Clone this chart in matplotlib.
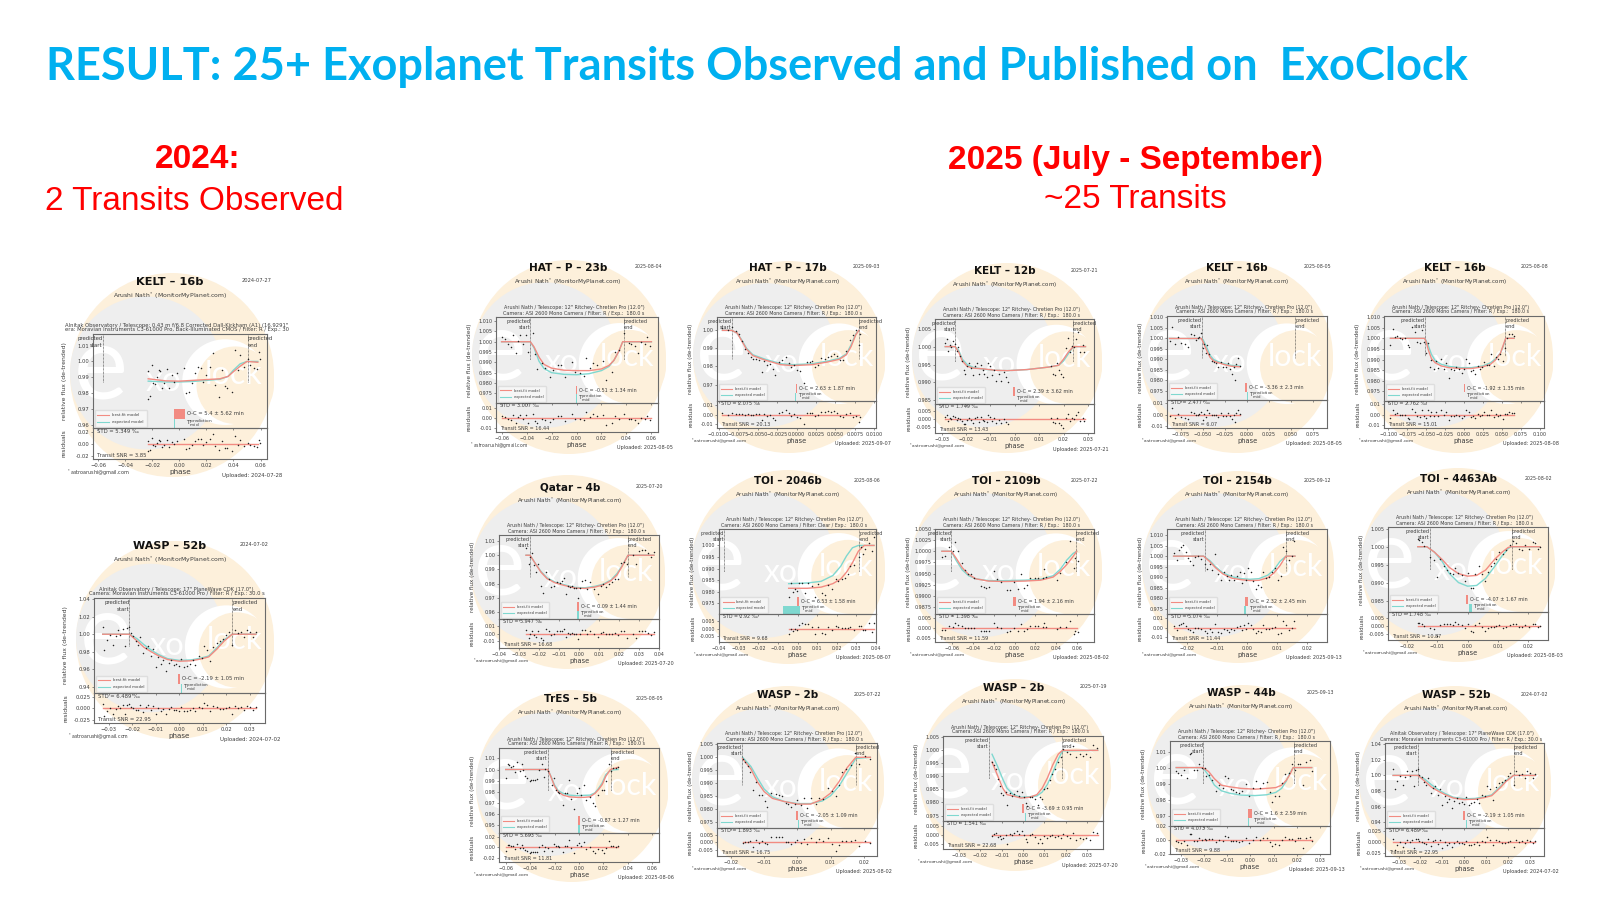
import matplotlib
matplotlib.use("Agg")
import matplotlib.pyplot as plt
from matplotlib.patches import Circle

W, H = 1600, 900

# KELT-16b 2024-07-27
k16a_phase = [-.0235,-.023,-.0218,-.02,-.0198,-.018,-.0168,-.0151,-.0144,-.0131,-.0114,-.0089,-.0074,-.0057,-.004,-.002,.0035,.0047,.0072,.0097,.0116,.0141,.0161,.0178,.0198,.0228,.0248,.0267,.029,.0314,.0339,.0356,.0389,.0408,.0431,.045,.0475,.0505,.0525,.055,.0574,.0592,.0599]
k16a_flux = [.9937,.9765,.978,.998,.9865,.986,.9903,.9945,.9941,.983,.9865,.9949,.983,.9913,.9871,.9924,.9956,.9797,.9807,.9861,.9924,.9966,.9956,.9871,.9913,.9962,1.0051,.985,.9776,.9945,.9843,.9829,.9807,1.0072,.9945,1.004,.9966,1.0017,.9977,.9956,.995,1.0061,1.0013]
k16a_res = [.0047,-.0125,-.011,.009,-.0025,-.003,.0015,.006,.0055,-.005,-.0015,.007,-.005,.0035,-.0006,.0047,.008,-.008,-.0072,-.0019,.0044,.0084,.0073,-.0013,.0028,.0075,.0163,-.0038,-.0112,.0052,-.0062,-.0076,-.012,.0125,-.002,.007,-.003,.0017,-.002,-.004,-.005,.0065,.002]
k16a_mx = [-.023,-.01,0,.01,.02,.03,.036,.04,.045,.05,.058]
k16a_best = [.989,.9877,.9875,.988,.9885,.989,.9905,.9935,.997,1.0,.9995]
k16a_exp = [.9875,.987,.987,.9873,.988,.9887,.9905,.9945,.9985,1.0,1.0]

# HAT-P-23b
h23_phase = [-.06,-.0573,-.0547,-.0528,-.0507,-.0488,-.0472,-.0453,-.0432,-.0405,-.0387,-.0352,-.0333,-.0315,-.028,-.0253,-.0213,-.0187,-.0147,-.0128,-.0093,-.004,-.0013,.0027,.0059,.008,.0112,.0133,.0165,.0213,.0235,.0288,.0307,.0341,.0379,.0421,.044,.0467,.0493,.052,.0547,.0568,.0587]
h23_flux = [1.0024,1.0013,.9987,.9976,1.0035,.9947,1.0006,1.0032,.9987,1.0035,.9949,1.0043,.9939,.9868,.9896,.9872,.9827,.9864,.9888,.9888,.9831,.9904,.9851,.9847,.9836,.9923,.9872,.9896,.9888,.9907,.9814,.9851,.9952,.996,1.004,.9992,.9987,.9981,.9947,.9997,.9987,1.0024,.9981]
h23_res = [.0024,.0013,-.0013,-.0024,.0035,-.0053,.0006,.0032,-.0013,.0035,-.0051,.0043,-.0031,-.0052,-.0012,-.0022,-.0045,-.0006,.0022,.0024,-.0031,.0043,-.001,-.0013,-.0024,.0063,.0012,.0036,.0024,.0033,-.007,-.0048,.0023,-.001,.004,-.0008,-.0013,-.0019,-.0053,-.0003,-.0013,.0024,-.0019]
h23_mx = [-.06,-.037,-.034,-.03,-.026,-.02,-.01,0,.01,.02,.026,.03,.034,.037,.06]
h23_best = [1.0,1.0,.9975,.9925,.989,.9872,.9862,.986,.986,.9868,.9885,.991,.9955,1.0,1.0]
h23_exp = [1.0,1.0,.997,.9905,.987,.985,.9842,.984,.9845,.986,.988,.991,.9955,1.0,1.0]

# HAT-P-17b
h17_phase = [-.0095,-.0088,-.0083,-.0078,-.0074,-.007,-.0066,-.0062,-.0058,-.0056,-.0052,-.0048,-.0044,-.0042,-.0038,-.0034,-.003,-.0027,-.0022,-.0018,-.0014,-.001,-.0007,-.0003,0,.0005,.0009,.0013,.0017,.002,.0024,.0028,.0032,.0036,.004,.0044,.0048,.0052,.0056,.006,.0064,.0068,.0072,.0076,.008,.0082]
h17_flux = [1.0015,1.0,1.0018,.9995,.998,.994,.9895,.9875,.985,.984,.984,.9835,.977,.983,.981,.9815,.9785,.9755,.9825,.9835,.9855,.982,.9795,.981,.978,.9775,.971,.9825,.9825,.983,.9795,.981,.9845,.984,.9855,.986,.987,.986,.9835,.9835,.9885,.9945,.9975,1.0,.992,.998]
h17_res = [.0015,0,.0018,.0002,.0008,.0006,-.0002,.0008,0,-.0005,.0002,.0004,-.0055,.0006,-.0012,-.0003,-.0031,-.0058,.0016,.0028,.0048,.0013,-.0011,.0005,-.0025,-.003,-.0095,.0019,.0019,.0022,-.0015,.0,.0032,.0023,.0033,.0032,.0036,.002,-.0012,-.002,.001,.0015,-.002,-.001,-.0075,-.002]
h17_mx = [-.0095,-.0083,-.0076,-.007,-.0064,-.0056,-.004,-.002,-.0005,.002,.004,.0055,.0064,.007,.0076,.008]
h17_best = [1.0,1.0,.9985,.994,.9895,.986,.9835,.981,.9805,.981,.9825,.984,.9865,.991,.9975,1.0]
h17_exp = [1.0,1.0,.9985,.9945,.99,.9865,.984,.9815,.981,.9815,.983,.9845,.987,.992,.998,1.0]

# KELT-12b
k12_phase = [-.0285,-.0278,-.0272,-.0265,-.026,-.0253,-.0245,-.0238,-.0232,-.0225,-.0218,-.021,-.0203,-.0195,-.0188,-.018,-.0172,-.0165,-.0155,-.0148,-.014,-.0132,-.0125,-.0115,-.0108,-.01,-.0092,-.0085,-.0075,-.0065,-.0055,-.0045,-.0035,-.0028,.0148,.0155,.0165,.0172,.018,.019,.0198,.021,.0218,.0225,.0235,.0245,.0252,.026,.0268,.0278,.0285]
k12_flux = [1.001,1.002,.9988,1.0005,.9998,1.0015,1.0008,.9988,1.0,.9975,.996,.9935,.9925,.9945,.9955,.994,.992,.9945,.9955,.9925,.995,.9935,.9925,.9915,.9955,.9945,.992,.9935,.9905,.9925,.9905,.993,.9915,.99,.9945,.9925,.992,.9955,.9935,.9925,.9915,.9995,1.0025,.9985,1.0002,.9998,1.002,1.004,.9985,1.0005,.9985]
k12_res = [.001,.002,-.0012,.0005,-.0002,.0015,.0008,-.001,.0004,-.0002,-.0012,-.003,-.003,-.001,.0002,-.0008,-.0025,.0002,.0012,-.0018,.0008,-.0005,-.0015,-.0022,.002,.001,-.0013,.0002,-.0028,-.0008,-.0028,-.0003,-.0018,-.0033,.0002,-.002,-.0028,.0003,-.0025,-.004,-.0055,.0005,.003,-.0015,.0002,-.0002,.002,.004,-.0015,.0005,-.0015]
k12_mx = [-.0285,-.0245,-.023,-.0215,-.0195,-.017,-.013,-.008,-.003,.005,.014,.018,.02,.022,.024,.029]
k12_best = [1.0,1.0,.9985,.996,.9945,.994,.9938,.9934,.9933,.9936,.9943,.9948,.9965,.9985,1.0,1.0]
k12_exp = [1.0,1.0,.999,.9965,.995,.9942,.9937,.9934,.9933,.9936,.9943,.9948,.996,.998,1.0,1.0]

# KELT-16b 2025-08-05
k16b_phase = [-.088,-.085,-.082,-.078,-.075,-.071,-.067,-.064,-.06,-.058,-.056,-.054,-.052,-.05,-.049,-.047,-.045,-.043,-.04,-.038,-.035,-.033,-.03,-.027,-.024,-.022,-.019,-.017,-.015,-.014,-.012,-.01,-.008]
k16b_flux = [.999,1.0055,.9975,1.0005,.998,.9975,.996,1.002,1.0015,.9995,1.0,1.0005,1.0025,.9955,.9975,.993,.997,.9925,.9895,.989,.9885,.9865,.989,.9865,.9865,.9885,.9855,.983,.9865,.98,.988,.9905,.987]
k16b_res = [-.001,.0055,-.0025,.0005,-.002,-.0025,-.004,.002,.0015,-.0005,0,.0005,.0025,-.0045,.0002,-.002,.004,.001,-.0002,-.0005,-.0003,-.0018,.0012,-.001,-.0008,.0013,-.0015,-.004,-.0005,-.0067,.0012,.004,.0005]
k16b_mx = [-.088,-.052,-.05,-.046,-.042,-.038,-.033,-.026,-.018,-.008]
k16b_best = [1.0,1.0,.9985,.9945,.991,.9893,.9885,.9876,.9868,.9865]
k16b_exp = [1.0,1.0,.9995,.996,.992,.99,.989,.988,.9872,.9868]

# KELT-16b 2025-08-08
k16c_phase = [-.097,-.094,-.091,-.088,-.085,-.082,-.078,-.074,-.072,-.069,-.065,-.062,-.058,-.055,-.053,-.05,-.047,-.045,-.043,-.04,-.037,-.034,-.03,-.027,-.024,-.02,-.017,-.013,-.01,-.006,-.003,0,.003,.006,.009,.012,.015,.018,.021,.024,.027,.03,.033,.036,.039,.042,.045,.048,.051,.054,.057,.06,.063,.066]
k16c_flux = [.9968,1.0045,1.0005,1.001,1.0,.9995,1.0,.997,.9958,1.0052,1.0028,.9985,.998,1.004,.9985,.993,.998,.9865,.99,.9855,.9895,.986,.9905,.9855,.9885,.9815,.9855,.985,.9865,.9855,.9835,.9855,.9905,.9885,.9845,.985,.983,.987,.9855,.9865,.989,.9875,.9875,.9925,.987,.991,.9905,.9925,.9895,.9955,1.0,1.002,1.0018,1.001]
k16c_res = [-.0032,.0045,.0005,.001,0,-.0005,0,-.003,-.0042,.0052,.0028,-.0015,-.002,.004,-.0015,-.0035,.0045,-.001,.002,-.0015,.0025,-.001,.004,-.0005,.0022,-.0048,-.001,-.0015,0,-.001,-.003,-.001,.004,.002,-.002,-.0015,-.0035,.0005,-.0012,-.0003,.002,0,-.0005,.0038,-.0025,.0008,-.001,0,-.004,.0002,.0005,.002,.0018,.001]
k16c_mx = [-.097,-.052,-.05,-.047,-.043,-.038,-.03,-.02,-.005,.01,.025,.035,.042,.048,.052,.055,.066]
k16c_best = [1.0,1.0,.9985,.9945,.9905,.9885,.987,.9862,.9858,.9858,.9866,.9878,.99,.993,.997,1.0,1.0]
k16c_exp = [1.0,1.0,.999,.9965,.9925,.9895,.9878,.9868,.9862,.9862,.987,.9885,.9905,.993,.9965,1.0,1.0]

# Qatar-4b
q4_phase = [-.0265,-.0252,-.0245,-.0235,-.0225,-.0215,-.0205,-.0192,-.0178,-.0165,-.015,-.014,-.0125,-.011,-.0095,-.0085,-.0075,-.0065,-.0055,-.0045,-.0035,-.0025,-.0015,-.0005,.0005,.0015,.003,.004,.0055,.0075,.0095,.0108,.012,.0135,.015,.0165,.018,.0195,.021,.0225,.024,.027,.0285,.03,.0315,.033,.0345,.036,.0375]
q4_flux = [1.005,.994,.9985,1.0015,.993,.988,.9935,.978,.973,.988,.9835,.9775,.9785,.981,.9805,.9815,.984,.9725,.978,.9775,.978,.977,.9765,.97,.977,.982,.9825,.976,.981,.976,.9725,.9785,.98,.9775,.9795,.981,.9835,.983,.9945,.9955,.9935,1.0,.9935,1.003,1.0035,1.004,1.0015,.9985,1.002]
q4_res = [.005,-.006,-.001,.0035,-.002,-.005,.004,-.006,-.008,.006,.003,-.002,0,.003,.003,.004,.006,-.005,.001,0,.001,0,0,-.007,0,.005,.0055,-.001,.004,-.001,-.005,.0005,.002,-.001,0,0,.001,-.002,.004,.003,-.0065,0,-.0065,.003,.0035,.004,.0015,-.0015,.002]
q4_mx = [-.0265,-.0245,-.022,-.019,-.016,-.012,-.007,-.002,.003,.008,.012,.016,.019,.0215,.0245,.0375]
q4_best = [1.0,1.0,.9945,.988,.9835,.9805,.9785,.9768,.9765,.9775,.979,.982,.986,.992,1.0,1.0]
q4_exp = [1.0,1.0,.9945,.9885,.984,.981,.979,.9772,.977,.978,.9795,.9825,.987,.9925,1.0,1.0]

# TOI-2046b
t2046_phase = [-.0045,-.0035,-.0025,-.0015,-.0003,.001,.0025,.004,.0055,.0075,.009,.0105,.0125,.014,.0155,.0175,.0195,.0205,.0225,.024,.0255,.027,.029,.0315,.0325,.0335,.0345,.0365,.038,.039]
t2046_flux = [.9778,.9838,.98,.981,.9805,.9838,.9838,.9795,.9838,.9825,.9778,.9832,.9795,.9788,.983,.9812,.9855,.9848,.9855,.986,.9875,.9912,.9915,.9948,.9995,.9965,.9985,1.001,.9975,1.0038]
t2046_res = [-.0037,-.0005,-.0015,-.0005,-.001,.0025,.0035,.0032,.0028,.0012,-.0035,.0012,-.0028,-.0035,.0012,-.0012,.0015,.0008,.0005,.0003,.0002,.0012,-.0008,.0018,.002,-.0012,-.0012,.0035,-.0025,.0038]
t2046_mx = [-.0045,.005,.012,.018,.022,.025,.028,.031,.034,.039]
t2046_best = [.9815,.9815,.982,.9835,.9855,.9885,.9925,.9975,1.0,1.0]
t2046_exp = [.9835,.9838,.9845,.987,.991,.9955,.999,1.0,1.0,1.0]

# TOI-2109b
t2109_phase = [-.0695,-.0665,-.0625,-.059,-.0565,-.0545,-.05,-.0475,-.0445,-.042,-.0385,-.0325,-.0295,-.027,-.0245,-.02,-.0165,-.0125,-.0075,-.0045,-.0005,.0035,.0065,.0095,.012,.015,.0195,.0225,.0275,.0285,.03,.041,.044,.0495,.0535,.0565,.058,.0605]
t2109_flux = [.9988,.9989,1.0009,1.0,1.002,1.0001,.9973,.9958,.995,.9948,.9939,.9921,.992,.9917,.9919,.9956,.9938,.9932,.9912,.9914,.9932,.9916,.9949,.9917,.9925,.994,.9941,.994,.9941,.9959,.9942,.9935,.9952,.9976,1.0023,.9963,.9985,.9978]
t2109_res = [-.0012,-.0011,.0009,.0006,.0022,.0015,.001,0,-.0003,.0001,-.0002,-.0015,-.0016,-.0018,-.0016,.0023,.0005,0,-.002,-.0018,0,-.0016,.0017,-.0015,-.0007,.0008,.0008,.0007,.0005,.0023,.0005,-.0007,.0003,.0002,.0035,-.0032,-.0014,-.0022]
t2109_mx = [-.0695,-.0605,-.056,-.05,-.044,-.037,-.025,-.01,.01,.025,.037,.044,.05,.056,.0595]
t2109_best = [1.0,1.0,.9985,.9963,.9948,.9938,.9933,.9932,.9933,.9935,.9942,.9955,.997,.9988,1.0]
t2109_exp = [1.0,1.0,.998,.9958,.9945,.9938,.9934,.9934,.9935,.9937,.9945,.996,.998,.9995,1.0]

# TOI-2154b
t2154_phase = [-.0245,-.0235,-.0228,-.022,-.0212,-.0205,-.0198,-.019,-.018,-.0172,-.0165,-.0152,-.014,-.0132,-.0125,-.0118,-.0108,-.0098,-.0088,-.0078,-.0068,-.006,-.0052,-.0045,-.0035,-.0025,-.0018,-.001,-.0005,.0002,.0012,.002,.003,.0038,.0048,.0055,.0065,.0075,.0085,.0095,.0105,.0112,.012,.013,.014,.015,.0158]
t2154_flux = [1.0015,.998,1.003,1.0042,1.0052,1.002,.999,.9975,.996,.9995,1.0,.9985,.9965,.994,.9965,.9935,1.001,.9915,.9885,.9925,.9905,.9885,.991,.9885,.9905,.9925,.987,.992,.9885,.9945,.9925,.988,.9845,.9865,.9855,.9925,.9895,.99,.9925,.9945,.9885,.9905,1.0045,1.0025,.998,1.0,1.007]
t2154_res = [.0015,-.002,.003,.0042,.0052,.002,-.001,-.0025,-.004,-.0005,0,-.0015,-.003,-.005,-.0012,-.004,.004,-.004,-.006,-.001,-.0025,-.004,-.001,-.0025,.0005,.002,-.002,.003,-.001,.0055,.003,-.0015,-.005,-.003,-.004,.003,-.001,-.0015,0,.0005,-.007,-.005,.0075,.003,-.002,0,.007]
t2154_mx = [-.0245,-.0145,-.0125,-.0105,-.008,-.005,-.002,.001,.004,.007,.009,.011,.013,.016]
t2154_best = [1.0,1.0,.9975,.9945,.9915,.9895,.9888,.9884,.9885,.9898,.992,.9955,1.0,1.0]
t2154_exp = [1.0,1.0,.998,.995,.992,.9902,.9893,.989,.9893,.991,.9935,.9975,1.0,1.0]

# TOI-4463Ab
t4463_phase = [-.0165,-.016,-.0152,-.0145,-.0125,-.0112,-.01,-.0092,-.0078,-.0068,-.0058,-.0048,-.004,-.0032,-.0018,-.0008,.0003,.0012,.0018,.0025,.0038,.0048,.0058,.0068,.0078,.0088,.0095,.0105,.0118,.0128,.014,.0152,.0162,.017,.018,.0192,.0205,.0218,.0225,.0235,.024]
t4463_flux = [1.0022,1.0018,1.0012,1.0001,.9972,.9962,.9915,.9965,.9945,.9935,.9928,.9925,.9942,.9928,.9922,.9905,.9928,.9885,.9885,.9925,.9945,.9925,.9905,.993,.9945,.9955,.9965,.9985,.998,.999,1.0005,1.0015,1.001,.9995,.9992,1.0005,.9995,1.0012,1.001,.9995,.9998]
t4463_res = [.0022,.0016,.001,0,-.0015,-.002,-.0065,.0005,.0012,.0012,.001,.0008,.0025,.001,.0005,-.0012,.001,-.0032,-.0035,.0005,.002,-.0008,-.0032,-.0012,-.0004,-.0005,0,.0005,-.001,-.0005,.0005,.0015,.001,-.0005,-.0008,.0005,-.0005,.0012,.001,-.0005,-.0002]
t4463_mx = [-.0165,-.0135,-.011,-.0085,-.006,-.003,0,.003,.006,.009,.0115,.0135,.0145,.024]
t4463_best = [1.0,1.0,.9985,.9965,.9942,.9925,.9918,.992,.9935,.9965,.9985,.9998,1.0,1.0]
t4463_exp = [1.0,1.0,.9985,.996,.9925,.99,.989,.9892,.9912,.9945,.9975,.9995,1.0,1.0]

# TrES-5b
t5_phase = [-.06,-.0585,-.057,-.0555,-.054,-.0525,-.051,-.0485,-.047,-.0455,-.044,-.0425,-.0405,-.039,-.0375,-.036,-.034,-.0325,-.0305,-.029,-.0275,-.025,-.0225,-.0205,-.019,-.0175,-.016,-.0135,-.0115,-.01,-.0085,-.0065,-.004,-.002,0,.0015,.004,.006,.009,.0115,.013,.0155,.0185,.0205,.0225,.0245,.0265,.028,.03,.032]
t5_flux = [.992,1.0045,1.004,1.002,1.003,.9975,1.0065,.999,1.0045,.9995,.9945,.9925,.9895,.9905,.9905,.991,.9915,1.0,1.005,.9935,1.0005,.999,.986,.9925,.982,.98,.9785,.9685,.9785,.979,.9905,.9735,.9645,.979,.9835,.9775,.9865,.9725,.9755,.9695,.967,.977,.982,.982,.9895,1.005,.9985,1.001,1.0015,1.002]
t5_res = [-.008,.0045,.004,.002,.003,-.0025,.0065,-.001,.0045,-.0005,-.0055,-.0075,-.0105,-.0095,-.0095,-.009,-.0085,0,.005,-.0065,.0005,-.001,-.0065,.0055,.002,.002,.001,-.009,.002,.003,.015,-.0015,-.011,.0035,.008,.002,.011,-.003,0,-.0075,-.011,-.004,-.006,-.011,-.002,.012,.002,.003,.0015,.002]
t5_mx = [-.06,-.0255,-.023,-.02,-.017,-.013,-.008,-.002,.004,.009,.013,.016,.019,.022,.0258,.032]
t5_best = [1.0,1.0,.9935,.985,.98,.977,.9755,.975,.975,.9755,.9785,.982,.9865,.994,1.0,1.002]
t5_exp = [1.0,1.0,.994,.986,.981,.9785,.977,.9765,.9768,.977,.979,.983,.988,.9955,.9995,1.0]

# WASP-2b 2025-07-22
w2a_phase = [-.0165,-.0158,-.015,-.0142,-.0133,-.0125,-.0115,-.0105,-.0098,-.009,-.0078,-.0065,-.0055,-.0045,-.0035,-.0028,-.0018,-.0008,-.0002,.0012,.002,.003,.0042,.0055,.0065,.0078,.0092,.0103,.0115,.0125,.0135,.0148,.0162,.0175,.0185,.0205,.0218]
w2a_flux = [.9995,.998,.9965,.9945,.9875,.9905,.9855,.9855,.983,.981,.9862,.9858,.9855,.9852,.9825,.982,.981,.982,.9835,.9815,.9842,.9805,.9845,.982,.9842,.984,.988,.987,.985,.9895,.9945,.9955,.997,1.0015,.9975,1.0005,.9995]
w2a_res = [-.0005,0,.0002,.0005,-.003,.0015,-.0005,.001,-.0005,-.0015,.0032,.0035,.0032,.0032,.0003,-.0002,-.001,0,.0015,-.0005,.0022,-.0015,.0025,.0001,.002,.001,.0025,-.001,-.0055,-.002,.0005,.0005,.001,.0015,-.0025,.0008,-.0005]
w2a_mx = [-.0165,-.014,-.012,-.01,-.0075,-.004,0,.004,.0075,.01,.0125,.015,.0176,.022]
w2a_best = [.9995,.9955,.9905,.9868,.9842,.983,.982,.982,.9838,.9862,.9905,.996,1.0,1.0]
w2a_exp = [1.0,.9965,.992,.9878,.9848,.983,.9822,.9822,.9832,.9852,.9888,.994,.9995,1.0]

# WASP-2b 2025-07-19
w2b_phase = [-.0145,-.0135,-.0125,-.0118,-.011,-.0102,-.0092,-.0082,-.0075,-.006,-.0052,-.004,-.0028,-.0018,-.0005,.0005,.0012,.002,.0032,.0042,.0055,.0068,.0078,.009,.01,.0112,.0125,.0138,.0152,.0165,.0178,.0188,.0205,.0218,.0235,.025,.0265,.028,.0295,.0312,.033,.0345]
w2b_flux = [.9955,.9945,.993,.989,.9865,.9835,.983,.9842,.979,.9835,.9825,.9832,.9845,.9825,.9842,.982,.9797,.9785,.982,.9822,.9815,.979,.9822,.9812,.985,.9855,.9885,.991,.993,.9955,.9975,1.0005,.9995,.9985,1.0015,.9975,.9985,.998,.9985,.9975,1.002,1.001]
w2b_res = [-.0002,.0005,.001,-.0012,-.0002,-.002,-.0015,.0003,-.005,.0005,0,.001,.0025,.0005,.0025,.0003,-.002,-.0035,0,.0005,-.0008,-.004,-.002,-.004,-.0003,-.0015,-.0005,0,-.001,-.0005,-.0015,.0005,-.0005,-.0015,.0015,-.0025,-.0015,-.002,-.0015,-.0025,.002,.001]
w2b_mx = [-.0145,-.012,-.0095,-.0075,-.0045,-.001,.003,.0065,.009,.0115,.014,.0165,.0185,.035]
w2b_best = [.9955,.9905,.9855,.983,.9825,.9817,.982,.983,.9855,.9895,.9945,.9985,1.0,1.0]
w2b_exp = [.9985,.994,.989,.9855,.983,.982,.9822,.9825,.984,.987,.9915,.9965,.9998,1.0]

# WASP-44b
w44_phase = [-.032,-.0312,-.03,-.0288,-.0275,-.0262,-.0255,-.0245,-.0232,-.022,-.021,-.0198,-.019,-.0178,-.0165,-.0148,-.0135,-.012,-.011,-.0095,-.0085,-.0075,-.006,-.0048,-.0035,-.002,-.0005,.001,.0025,.004,.0055,.0072,.0085,.0095,.0108,.0122,.0135,.015,.0165,.018,.0192,.0205,.0215,.0228,.0242,.0258,.0265]
w44_flux = [.998,.9965,.9955,.9985,.9935,1.0085,1.009,.9985,.9985,1.0025,1.0,.9995,.9945,.9955,.9925,.9855,.989,.9875,.9945,.9935,.9865,.986,.9845,.984,.9855,.9895,.9825,.9875,.9915,.9875,.9905,.991,.9845,.9785,.9825,.982,.9905,.996,.9965,1.002,.9985,1.0025,1.0025,.989,1.0035,1.005,.998]
w44_res = [-.002,-.0035,-.0045,-.0015,-.0065,.0085,.009,-.0015,-.0015,.0025,0,.002,0,.002,.0015,-.003,0,-.001,.006,.005,-.001,-.001,-.002,-.0025,-.001,.0025,-.0045,.0005,.0045,.0005,.0035,.0035,-.0035,-.009,-.006,-.0075,0,.004,.001,.002,-.0015,.0025,.0025,-.011,.0035,.005,-.002]
w44_mx = [-.032,-.0205,-.018,-.0155,-.0125,-.009,-.004,.002,.007,.011,.0135,.0155,.017,.0185,.0265]
w44_best = [1.0,1.0,.9975,.993,.989,.988,.987,.9865,.987,.9875,.989,.992,.9955,1.0,1.0]
w44_exp = [1.0,1.0,.995,.989,.9855,.984,.9828,.9825,.983,.9845,.987,.9915,.9965,1.0,1.0]

# WASP-52b
w52_phase = [-.0325,-.0318,-.0305,-.0295,-.0282,-.027,-.026,-.025,-.024,-.023,-.0222,-.0212,-.0205,-.0195,-.0185,-.0175,-.0165,-.0152,-.0142,-.0132,-.0122,-.0112,-.01,-.009,-.0078,-.0068,-.0058,-.0045,-.0035,-.0022,-.0012,-.0002,.0008,.002,.0032,.0045,.0058,.0068,.0082,.0095,.0105,.0118,.013,.0145,.016,.0172,.0185,.0198,.021,.0225,.0238,.025,.0262,.0275,.0288,.03,.0312,.0325]
w52_flux = [1.008,.982,.993,.999,.988,.998,1.005,.9995,1.006,.987,1.007,1.008,1.001,.998,.992,.988,.997,.978,.984,.986,.975,.983,.962,.974,.966,.97,.958,.967,.971,.965,.966,.963,.972,.962,.964,.966,.97,.965,.975,.973,.986,.982,.969,.985,.99,.992,.994,.999,1.003,.988,1.005,1.001,1.002,.997,1.005,1.003,.997,1.002]
w52_res = [.008,-.017,-.006,0,-.012,-.002,.005,0,.006,-.013,.007,.008,.002,.001,-.003,-.004,.007,-.008,.002,.006,-.004,.004,-.013,0,-.006,-.001,-.012,-.002,.002,-.003,-.003,-.005,.003,-.007,-.006,-.004,0,-.006,.003,.001,.012,.006,-.007,.004,.003,-.001,-.002,0,.003,-.012,.005,.001,.002,-.003,.005,.003,-.003,.002]
w52_mx = [-.0325,-.0212,-.018,-.015,-.012,-.009,-.005,0,.005,.009,.0125,.016,.019,.0225,.0325]
w52_best = [1.0,1.0,.9925,.985,.98,.9755,.971,.969,.9695,.9715,.974,.983,.992,1.0,1.0]
w52_exp = [1.0,1.0,.995,.988,.982,.977,.972,.97,.9705,.9725,.975,.9845,.9935,1.0,1.0]

ARUSHI = 'Arushi Nath / Telescope: 12" Ritchey- Chretien Pro (12.0")'
ASI = "Camera: ASI 2600 Mono Camera / Filter: R / Exp.:  180.0 s"
ALN17 = 'Alnitak Observatory / Telescope: 17" PlaneWave CDK (17.0")'
MOR = "Camera: Moravian Instruments C3-61000 Pro / Filter: R / Exp.: 30.0 s"

# name, date, upload, obs lines, O-C, STD, SNR and data for each panel
panels = [
    dict(name="KELT – 16b", date="2024-07-27", up="2024-07-28", o1='Alnitak Observatory / Telescope: 0.43 m f/6.8 Corrected Dall-Kirkham (A1) (16.9291"',
         o2="era: Moravian Instruments C3-61000 Pro, Back-Illuminated CMOS / Filter: R / Exp.: 30", oc="O-C = 5.4 ± 5.62 min", std="STD = 5.349 ‰", snr="Transit SNR = 3.85",
         d=(k16a_phase, k16a_flux, k16a_res, k16a_mx, k16a_best, k16a_exp), xl=(-.0638, .0648), yl=(.9578, 1.0174), rl=(-.0256, .0267),
         xt=[-.06,-.04,-.02,0,.02,.04,.06], xf="%.2f", yt=[.96,.97,.98,.99,1.0,1.01], yf="%.2f", rt=[-.02,0,.02], rf="%.2f",
         s=-.0565, e=.0505, lo=.987, red=(-.0037,.0042), cy=(-.0038,-.0034)),
    dict(name="HAT – P – 23b", date="2025-08-04", up="2025-08-05", o1=ARUSHI, o2=ASI, oc="O-C = -0.51 ± 1.34 min", std="STD = 3.007 ‰", snr="Transit SNR = 16.44",
         d=(h23_phase, h23_flux, h23_res, h23_mx, h23_best, h23_exp), xl=(-.0645, .0653), yl=(.9703, 1.012), rl=(-.0141, .0152),
         xt=[-.06,-.04,-.02,0,.02,.04,.06], xf="%.2f", yt=[.975,.98,.985,.99,.995,1.0,1.005,1.01], yf="%.3f", rt=[-.01,0,.01], rf="%.2f",
         s=-.037, e=.0378, lo=.991, red=(-.0008,.0008), cy=(-.0002,.0002)),
    dict(name="HAT – P – 17b", date="2025-09-03", up="2025-09-07", o1=ARUSHI, o2=ASI, oc="O-C = 2.63 ± 1.87 min", std="STD = 2.075 ‰", snr="Transit SNR = 20.13",
         d=(h17_phase, h17_flux, h17_res, h17_mx, h17_best, h17_exp), xl=(-.0102, .0102), yl=(.9609, 1.0074), rl=(-.0139, .0142),
         xt=[-.01,-.0075,-.005,-.0025,0,.0025,.005,.0075,.01], xf="%.4f", yt=[.97,.98,.99,1.0], yf="%.2f", rt=[-.01,0,.01], rf="%.2f",
         s=-.0083, e=.008, lo=.9844, red=(-.0001,.0001), cy=(-.00018,-.00012)),
    dict(name="KELT – 12b", date="2025-07-21", up="2025-07-21", o1=ARUSHI, o2=ASI, oc="O-C = 2.39 ± 3.62 min", std="STD = 1.749 ‰", snr="Transit SNR = 13.43",
         d=(k12_phase, k12_flux, k12_res, k12_mx, k12_best, k12_exp), xl=(-.0327, .0325), yl=(.984, 1.0077), rl=(-.0087, .009),
         xt=[-.03,-.02,-.01,0,.01,.02,.03], xf="%.2f", yt=[.985,.99,.995,1.0,1.005], yf="%.3f", rt=[-.005,0,.005], rf="%.3f",
         s=-.0243, e=.0238, lo=.9956, red=(-.0007,.0001), cy=(-.0005,-.0003)),
    dict(name="KELT – 16b", date="2025-08-05", up="2025-08-05", o1=ARUSHI, o2=ASI, oc="O-C = -3.36 ± 2.3 min", std="STD = 2.477 ‰", snr="Transit SNR = 6.07",
         d=(k16b_phase, k16b_flux, k16b_res, k16b_mx, k16b_best, k16b_exp), xl=(-.0909, .0909), yl=(.9707, 1.0107), rl=(-.0115, .0126),
         xt=[-.075,-.05,-.025,0,.025,.05,.075], xf="%.3f", yt=[.975,.98,.985,.99,.995,1.0,1.005,1.01], yf="%.3f", rt=[-.01,0,.01], rf="%.2f",
         s=-.0515, e=.055, lo=.9905, red=(-.0023,0), cy=(.0005,.0011)),
    dict(name="KELT – 16b", date="2025-08-08", up="2025-08-08", o1=ARUSHI, o2=ASI, oc="O-C = -1.92 ± 1.35 min", std="STD = 2.762 ‰", snr="Transit SNR = 15.01",
         d=(k16c_phase, k16c_flux, k16c_res, k16c_mx, k16c_best, k16c_exp), xl=(-.1055, .1055), yl=(.9705, 1.0105), rl=(-.0126, .0127),
         xt=[-.1,-.075,-.05,-.025,0,.025,.05,.075,.1], xf="%.3f", yt=[.975,.98,.985,.99,.995,1.0,1.005,1.01], yf="%.3f", rt=[-.01,0,.01], rf="%.2f",
         s=-.0515, e=.0545, lo=.9915, red=(-.0005,.0009), cy=(-.0002,.0002)),
    dict(name="Qatar – 4b", date="2025-07-20", up="2025-07-20", o1=ARUSHI, o2=ASI, oc="O-C = 0.09 ± 1.44 min", std="STD = 5.947 ‰", snr="Transit SNR = 16.68",
         d=(q4_phase, q4_flux, q4_res, q4_mx, q4_best, q4_exp), xl=(-.04, .04), yl=(.9549, 1.0143), rl=(-.0195, .02),
         xt=[-.04,-.03,-.02,-.01,0,.01,.02,.03,.04], xf="%.2f", yt=[.96,.97,.98,.99,1.0,1.01], yf="%.2f", rt=[-.01,0,.01], rf="%.2f",
         s=-.0247, e=.0245, lo=.9845, red=(-.0008,.0002), cy=(-.0008,.0002)),
    dict(name="TOI – 2046b", date="2025-08-06", up="2025-08-07", o1=ARUSHI, o2=ASI.replace("R /", "Clear /"), oc="O-C = 6.53 ± 1.58 min", std="STD = 2.92 ‰", snr="Transit SNR = 9.68",
         d=(t2046_phase, t2046_flux, t2046_res, t2046_mx, t2046_best, t2046_exp), xl=(-.04, .04), yl=(.9704, 1.0071), rl=(-.0093, .01),
         xt=[-.04,-.03,-.02,-.01,0,.01,.02,.03,.04], xf="%.2f", yt=[.975,.98,.985,.99,.995,1.0], yf="%.3f", rt=[-.005,0,.005], rf="%.3f",
         s=-.0375, e=.0315, lo=.9884, red=(-.0005,.0009), cy=(-.0075,.0014)),
    dict(name="TOI – 2109b", date="2025-07-22", up="2025-08-02", o1=ARUSHI, o2=ASI, oc="O-C = 1.94 ± 2.16 min", std="STD = 1.398 ‰", snr="Transit SNR = 11.59",
         d=(t2109_phase, t2109_flux, t2109_res, t2109_mx, t2109_best, t2109_exp), xl=(-.0761, .0761), yl=(.9859, 1.005), rl=(-.0071, .0069),
         xt=[-.06,-.04,-.02,0,.02,.04,.06], xf="%.2f", yt=[.9875,.99,.9925,.995,.9975,1.0,1.0025,1.005], yf="%.4f", rt=[-.005,0,.005], rf="%.3f",
         s=-.0605, e=.0585, lo=.9954, red=(-.0019,.0016), cy=(-.0019,-.0014)),
    dict(name="TOI – 2154b", date="2025-09-12", up="2025-09-13", o1=ARUSHI, o2=ASI, oc="O-C = 2.32 ± 2.45 min", std="STD = 5.074 ‰", snr="Transit SNR = 11.44",
         d=(t2154_phase, t2154_flux, t2154_res, t2154_mx, t2154_best, t2154_exp), xl=(-.0267, .0267), yl=(.9725, 1.0129), rl=(-.0151, .0147),
         xt=[-.02,-.01,0,.01,.02], xf="%.2f", yt=[.975,.98,.985,.99,.995,1.0,1.005,1.01], yf="%.3f", rt=[-.01,0,.01], rf="%.2f",
         s=-.0141, e=.013, lo=.9927, red=(-.0006,.0003), cy=(-.0009,-.0002)),
    dict(name="TOI – 4463Ab", date="2025-08-02", up="2025-08-03", o1=ARUSHI, o2=ASI, oc="O-C = -4.07 ± 1.67 min", std="STD = 1.748 ‰", snr="Transit SNR = 10.87",
         d=(t4463_phase, t4463_flux, t4463_res, t4463_mx, t4463_best, t4463_exp), xl=(-.0264, .0267), yl=(.9818, 1.0055), rl=(-.0089, .0089),
         xt=[-.02,-.01,0,.01,.02], xf="%.2f", yt=[.985,.99,.995,1.0,1.005], yf="%.3f", rt=[-.005,0,.005], rf="%.3f",
         s=-.0126, e=.0146, lo=.9936, red=(-.0006,.0003), cy=(.0004,.0014)),
    dict(name="TrES – 5b", date="2025-08-05", up="2025-08-06", o1=ARUSHI, o2=ASI, oc="O-C = -0.87 ± 1.27 min", std="STD = 5.693 ‰", snr="Transit SNR = 11.81",
         d=(t5_phase, t5_flux, t5_res, t5_mx, t5_best, t5_exp), xl=(-.0655, .0655), yl=(.943, 1.0193), rl=(-.0282, .0275),
         xt=[-.06,-.04,-.02,0,.02,.04,.06], xf="%.2f", yt=[.95,.96,.97,.98,.99,1.0,1.01], yf="%.2f", rt=[-.02,0,.02], rf="%.2f",
         s=-.0255, e=.0258, lo=.9807, red=(-.0008,.0005), cy=(-.0007,.0008)),
    dict(name="WASP – 2b", date="2025-07-22", up="2025-08-02", o1=ARUSHI, o2=ASI, oc="O-C = -2.05 ± 1.09 min", std="STD = 1.893 ‰", snr="Transit SNR = 16.75",
         d=(w2a_phase, w2a_flux, w2a_res, w2a_mx, w2a_best, w2a_exp), xl=(-.0242, .024), yl=(.9728, 1.0055), rl=(-.0091, .0093),
         xt=[-.02,-.01,0,.01,.02], xf="%.2f", yt=[.975,.98,.985,.99,.995,1.0,1.005], yf="%.3f", rt=[-.005,0,.005], rf="%.3f",
         s=-.0167, e=.0176, lo=.9892, red=(-.0004,.0001), cy=(.0002,.0006)),
    dict(name="WASP – 2b", date="2025-07-19", up="2025-07-20", o1=ARUSHI, o2=ASI, oc="O-C = -3.69 ± 0.95 min", std="STD = 1.541 ‰", snr="Transit SNR = 22.68",
         d=(w2b_phase, w2b_flux, w2b_res, w2b_mx, w2b_best, w2b_exp), xl=(-.0375, .0375), yl=(.9729, 1.0055), rl=(-.0075, .0078),
         xt=[-.03,-.02,-.01,0,.01,.02,.03], xf="%.2f", yt=[.975,.98,.985,.99,.995,1.0,1.005], yf="%.3f", rt=[-.005,0,.005], rf="%.3f",
         s=-.016, e=.0185, lo=.9889, red=(-.0005,.0005), cy=(.0009,.0014)),
    dict(name="WASP – 44b", date="2025-09-13", up="2025-09-13", o1=ARUSHI, o2=ASI, oc="O-C = 1.6 ± 2.59 min", std="STD = 4.073 ‰", snr="Transit SNR = 9.88",
         d=(w44_phase, w44_flux, w44_res, w44_mx, w44_best, w44_exp), xl=(-.0347, .0344), yl=(.9635, 1.0166), rl=(-.02, .02),
         xt=[-.03,-.02,-.01,0,.01,.02,.03], xf="%.2f", yt=[.97,.98,.99,1.0,1.01], yf="%.2f", rt=[-.02,0,.02], rf="%.2f",
         s=-.0203, e=.0187, lo=.9896, red=(-.001,.0006), cy=(-.0008,-.0004)),
    dict(name="WASP – 52b", date="2024-07-02", up="2024-07-02", o1=ALN17, o2=MOR, oc="O-C = -2.19 ± 1.05 min", std="STD = 6.489 ‰", snr="Transit SNR = 22.95",
         d=(w52_phase, w52_flux, w52_res, w52_mx, w52_best, w52_exp), xl=(-.0362, .0364), yl=(.9326, 1.0415), rl=(-.032, .0328),
         xt=[-.03,-.02,-.01,0,.01,.02,.03], xf="%.2f", yt=[.94,.96,.98,1.0,1.02,1.04], yf="%.2f", rt=[-.025,0,.025], rf="%.3f",
         s=-.0212, e=.0225, lo=.9865, red=(-.0005,.0003), cy=(.0006,.0012)),
    dict(name="WASP – 52b", date="2024-07-02", up="2024-07-02", o1=ALN17, o2=MOR, oc="O-C = -2.19 ± 1.05 min", std="STD = 6.489 ‰", snr="Transit SNR = 22.95",
         d=(w52_phase, w52_flux, w52_res, w52_mx, w52_best, w52_exp), xl=(-.0362, .0364), yl=(.9326, 1.0415), rl=(-.032, .0328),
         xt=[-.03,-.02,-.01,0,.01,.02,.03], xf="%.2f", yt=[.94,.96,.98,1.0,1.02,1.04], yf="%.2f", rt=[-.025,0,.025], rf="%.3f",
         s=-.0212, e=.0225, lo=.9865, red=(-.0005,.0003), cy=(.0006,.0012)),
]

# pixel layout: left, right, top, middle, bottom, circle x, y, radius, title x, y
layout = [
    (93, 267, 334, 428, 459, 172, 375, 102, 170, 282),
    (496, 658, 317, 403, 432, 569, 357, 97, 568, 268),
    (717, 876, 317, 401, 428, 789, 357, 96, 788, 268),
    (935, 1094, 319, 404, 433, 1007, 358, 95, 1005, 271),
    (1167, 1327, 316, 400, 428, 1237, 357, 96, 1237, 268),
    (1384, 1544, 316, 401, 428, 1457, 357, 96, 1455, 268),
    (499, 659, 535, 619, 648, 568, 572, 97, 570, 487),
    (719, 876, 529, 614, 642, 788, 567, 97, 788, 481),
    (935, 1094, 529, 614, 642, 1006, 567, 96, 1006, 481),
    (1167, 1327, 529, 614, 642, 1238, 567, 96, 1237, 481),
    (1388, 1548, 527, 612, 640, 1458, 565, 97, 1459, 479),
    (499, 659, 748, 833, 862, 572, 786, 96, 570, 699),
    (717, 877, 743, 828, 856, 788, 782, 96, 788, 695),
    (943, 1103, 736, 821, 849, 1015, 775, 96, 1014, 688),
    (1170, 1330, 741, 826, 854, 1243, 781, 96, 1241, 693),
    (1385, 1544, 743, 828, 856, 1455, 782, 96, 1456, 695),
    (94, 265, 598, 693, 723, 175, 640, 99, 170, 546),
]

RED = "#f28b82"
CYAN = "#7fd8d0"
DARK = "#3d3d3d"

fig = plt.figure(figsize=(16, 9), dpi=100, facecolor="white")
bg = fig.add_axes([0, 0, 1, 1], zorder=0)
bg.set_xlim(0, W)
bg.set_ylim(H, 0)
bg.axis("off")


def make_axes(l, r, t, b, k):
    ax = fig.add_axes([l / W, 1 - b / H, (r - l) / W, (b - t) / H], zorder=2)
    ax.set_facecolor("none")
    for sp in ax.spines.values():
        sp.set_color("#6a6a6a")
        sp.set_linewidth(0.8)
    ax.tick_params(length=1.5, width=0.4, labelsize=3.5 * k, pad=1.2, colors=DARK)
    return ax


def watermark(cx, cy, r):
    bg.add_patch(Circle((cx, cy), r, fc="#fdf0db", ec="none"))
    bg.add_patch(Circle((cx - 0.25 * r, cy - 0.02 * r), 0.75 * r, fc="#eeeeee", ec="none"))
    bg.add_patch(Circle((cx + 0.52 * r, cy + 0.07 * r), 0.42 * r, fc="white", ec="none"))
    bg.add_patch(Circle((cx + 0.62 * r, cy + 0.10 * r), 0.38 * r, fc="#fdf0db", ec="none"))
    k = r / 97
    bg.text(cx - 0.70 * r, cy - 0.05 * r, "e", color="white", fontsize=70 * k, family="Lato", ha="center", va="center")
    bg.text(cx - 0.08 * r, cy + 0.06 * r, "xo", color="white", fontsize=23 * k, family="Lato", ha="center", va="center")
    bg.text(cx + 0.60 * r, cy + 0.0 * r, "lock", color="white", fontsize=22 * k, family="Lato", ha="center", va="center")


def draw_panel(p, box):
    l, r, t, m, b, cx, cy, rad, tx, ty = box
    k = (r - l) / 160
    phase, flux, res, mx, best, exp = p["d"]
    n = min(len(phase), len(flux), len(res))
    watermark(cx, cy, rad)

    bg.text(tx, ty, p["name"], fontsize=7.5 * k, weight="bold", color="#111111", ha="center", va="center")
    bg.text(r + 4, ty - 1, p["date"], fontsize=3.4 * k, color=DARK, ha="right", va="center")
    bg.text(tx, ty + 14, "Arushi Nath$^*$ (MonitorMyPlanet.com)", fontsize=4.1 * k, color=DARK, ha="center", va="center")
    bg.text((l + r) / 2 - 3, t - 9, p["o1"], fontsize=3.45 * k, color=DARK, ha="center", va="center")
    bg.text((l + r) / 2 - 3, t - 4, p["o2"], fontsize=3.45 * k, color=DARK, ha="center", va="center")
    bg.text(l - 26, b + 14, "$^*$astroarushi@gmail.com", fontsize=3.2 * k, color=DARK, ha="left", va="center")
    bg.text(r + 15, b + 16, "Uploaded: " + p["up"], fontsize=3.6 * k, color=DARK, ha="right", va="center")

    ax = make_axes(l, r, t, m, k)
    ax.plot(mx, best, color=RED, lw=1.0, label="best-fit model", zorder=3)
    ax.plot(mx, exp, color=CYAN, lw=1.0, label="expected model", zorder=2)
    ax.scatter(phase[:n], flux[:n], s=1.2, color="#222222", lw=0, zorder=4)
    ax.set_xlim(*p["xl"])
    ax.set_ylim(*p["yl"])
    ax.set_xticks(p["xt"])
    ax.tick_params(labelbottom=False)
    ax.set_yticks(p["yt"])
    ax.set_yticklabels([p["yf"] % v for v in p["yt"]])
    ax.set_ylabel("relative flux (de-trended)", fontsize=4.1 * k, color=DARK, labelpad=1.5)
    top = p["yl"][1]
    ax.plot([p["s"], p["s"]], [top, p["lo"]], color="#333333", lw=0.5, ls=(0, (1, 1)))
    ax.plot([p["e"], p["e"]], [top, p["lo"]], color="#333333", lw=0.5, ls=(0, (1, 1)))
    tr = ax.get_xaxis_transform()
    ax.text(p["s"], 0.975, "predicted\nstart", fontsize=3.6 * k, color=DARK, ha="right", va="top", transform=tr, clip_on=False, linespacing=1.3)
    ax.text(p["e"], 0.975, "predicted\nend", fontsize=3.6 * k, color=DARK, ha="left", va="top", transform=tr, clip_on=False, linespacing=1.3)
    ax.axvspan(p["red"][0], p["red"][1], ymin=0.1, ymax=0.2, color=RED, lw=0)
    ax.axvspan(p["cy"][0], p["cy"][1], ymin=0.0, ymax=0.1, color=CYAN, lw=0)
    side = max(p["red"][1], p["cy"][1])
    span = p["xl"][1] - p["xl"][0]
    ax.text(p["red"][1] + 0.012 * span, 0.15, p["oc"], fontsize=3.5 * k, color=DARK, va="center", transform=tr)
    ax.text(side + 0.006 * span, 0.055, r"$\mathregular{T_{mid}^{prediction}}$", fontsize=4.0 * k, color=DARK, va="center", transform=tr)
    leg = ax.legend(loc="lower left", fontsize=2.6 * k, frameon=True, framealpha=0.5, edgecolor="#cccccc",
                    handlelength=3.0, borderpad=0.7, labelspacing=0.7, bbox_to_anchor=(0.005, 0.005), borderaxespad=0.2)
    for txt in leg.get_texts():
        txt.set_color(DARK)
    for line in leg.get_lines():
        line.set_linewidth(0.8)

    ar = make_axes(l, r, m, b, k)
    ar.plot([mx[0], mx[-1]], [0, 0], color=RED, lw=1.0, zorder=2)
    ar.scatter(phase[:n], res[:n], s=1.2, color="#222222", lw=0, zorder=4)
    ar.set_xlim(*p["xl"])
    ar.set_ylim(*p["rl"])
    ar.set_xticks(p["xt"])
    ar.set_xticklabels([(p["xf"] % v).replace("-", "\u2212") for v in p["xt"]])
    ar.set_yticks(p["rt"])
    ar.set_yticklabels([p["rf"] % v for v in p["rt"]])
    ar.set_ylabel("residuals", fontsize=4.1 * k, color=DARK, labelpad=1.5)
    ar.set_xlabel("phase", fontsize=4.8 * k, color=DARK, labelpad=0.8)
    ar.yaxis.set_label_coords(-0.15, 0.5)
    ax.yaxis.set_label_coords(-0.15, 0.5)
    ar.text(0.025, 0.9, p["std"], fontsize=3.5 * k, color=DARK, va="center", transform=ar.transAxes)
    ar.text(0.025, 0.12, p["snr"], fontsize=3.5 * k, color=DARK, va="center", transform=ar.transAxes)


for p, box in zip(panels, layout):
    draw_panel(p, box)

# slide heading
bg.text(46, 67, "RESULT: 25+ Exoplanet Transits Observed and Published on  ExoClock", color="#00b0f0",
        fontsize=32.5, family="Lato", weight="bold", ha="left", va="center")
bg.text(198, 160, "2024:", color="#ff0000", fontsize=24, family="Liberation Sans", weight="bold", ha="center", va="center")
bg.text(194, 201, "2 Transits Observed", color="#ff0000", fontsize=24, family="Liberation Sans", ha="center", va="center")
bg.text(1135, 160, "2025 (July - September)", color="#ff0000", fontsize=24, family="Liberation Sans", weight="bold", ha="center", va="center")
bg.text(1135, 200, "~25 Transits", color="#ff0000", fontsize=24, family="Liberation Sans", ha="center", va="center")

fig.savefig("out.png", dpi=100)
